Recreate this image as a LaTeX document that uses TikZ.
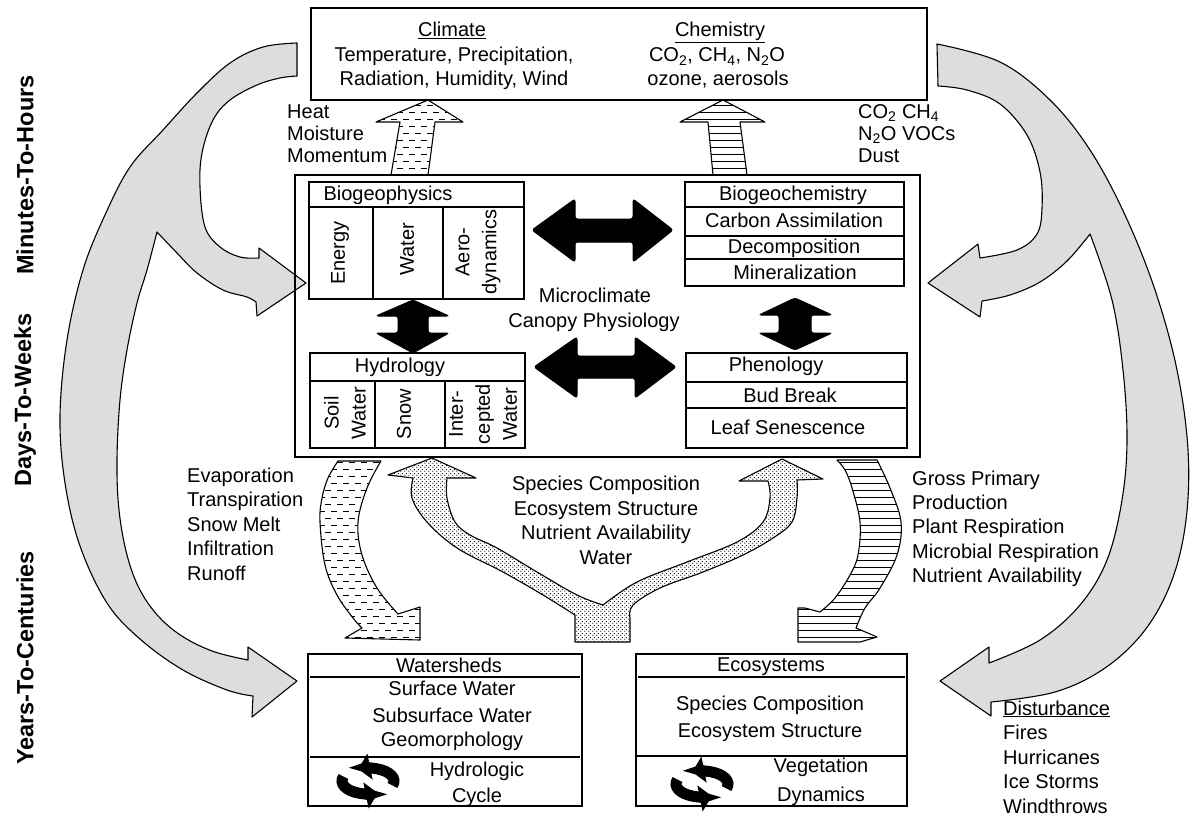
\documentclass[tikz,border=0pt]{standalone}
\usepackage{fontspec}
\setmainfont{Liberation Sans}
\usetikzlibrary{patterns,arrows.meta}
\definecolor{lgray}{RGB}{221,221,221}
\newcommand\myfs{\fontsize{20}{24}\selectfont}
\newcommand\myrfs{\fontsize{20}{27}\selectfont}
\newcommand\mybfs{\fontsize{23.5}{26}\selectfont\bfseries}
\pgfdeclarepatternformonly{mystripes}{\pgfpoint{-1pt}{-1pt}}{\pgfpoint{11pt}{8pt}}{\pgfpoint{10pt}{7pt}}{\pgfsetlinewidth{1pt}\pgfpathmoveto{\pgfpoint{-1pt}{3.5pt}}\pgfpathlineto{\pgfpoint{11pt}{3.5pt}}\pgfusepath{stroke}}
\pgfdeclarepatternformonly{mydashes}{\pgfpoint{-1pt}{-1pt}}{\pgfpoint{13pt}{15pt}}{\pgfpoint{12pt}{14pt}}{\pgfsetlinewidth{1.6pt}\pgfpathmoveto{\pgfpoint{0.5pt}{3.5pt}}\pgfpathlineto{\pgfpoint{6.5pt}{3.5pt}}\pgfpathmoveto{\pgfpoint{6.5pt}{10.5pt}}\pgfpathlineto{\pgfpoint{12.5pt}{10.5pt}}\pgfusepath{stroke}}
\pgfdeclarepatternformonly{mydots}{\pgfpointorigin}{\pgfpoint{4pt}{4pt}}{\pgfpoint{4pt}{4pt}}{\pgfpathcircle{\pgfpoint{1pt}{1pt}}{0.75pt}\pgfpathcircle{\pgfpoint{3pt}{3pt}}{0.75pt}\pgfusepath{fill}}
\begin{document}
\begin{tikzpicture}[x=1pt,y=-1pt,
  ct/.style={font=\myfs, inner sep=0pt, anchor=base},
  lt/.style={font=\myfs, inner sep=0pt, anchor=base west},
  rt/.style={font=\myrfs, inner sep=0pt, rotate=90, align=center},
  vt/.style={font=\mybfs, inner sep=0pt, rotate=90},
  bx/.style={draw, line width=1.3pt},
  ga/.style={draw, line width=1.1pt, fill=lgray, line join=round},
  blk/.style={fill=black, draw=black, line width=1pt, rounded corners=2.5pt},
  pat/.style={draw, line width=1.1pt, line join=round},
  cyc/.style={line width=11pt, -{Triangle[length=12pt,width=26pt]}}
]
\useasboundingbox (0,0) rectangle (1193,816);
\fill[white] (0,0) rectangle (1193,816);

% ---------- big gray arrows ----------
\draw[ga] plot[smooth,tension=0.6] coordinates {(297,43) (263,47) (230,63) (197,93) (163,130) (130,167) (105,215) (83,270) (67,340) (60,416) (65,483) (80,546) (107,603) (140,639) (183,670) (227,690) (253,696)}
 -- (252,717) -- (297,681) -- (248,647) -- (248,660)
 -- plot[smooth,tension=0.6] coordinates {(248,660) (215,652) (185,638) (160,618) (140,590) (127,555) (119,510) (117,460) (120,400) (127,350) (137,303) (147,270) (157,232)}
 -- plot[smooth,tension=0.6] coordinates {(157,232) (177,253) (197,273) (223,290) (247,297) (256,302)}
 -- (257,316) -- (306,283) -- (259,248) -- (259,258)
 -- plot[smooth,tension=0.6] coordinates {(259,258) (240,257) (220,247) (205,227) (200,187) (202,153) (213,120) (230,100) (257,85) (280,78) (297,76)}
 -- cycle;

\draw[ga] plot[smooth,tension=0.6] coordinates {(937,44) (1000,62) (1050,100) (1090,150) (1125,215) (1155,290) (1177,370) (1188,450) (1186,520) (1172,580) (1145,630) (1105,668) (1055,692) (991,702)}
 -- (991,716) -- (940,681) -- (989,647) -- (989,663)
 -- plot[smooth,tension=0.6] coordinates {(989,663) (1040,640) (1080,605) (1107,560) (1122,500) (1127,440) (1123,370) (1112,300) (1090,234)}
 -- plot[smooth,tension=0.6] coordinates {(1090,234) (1067,261) (1040,282) (1010,295) (982,301)}
 -- (980,317) -- (928,283) -- (978,244) -- (980,258)
 -- plot[smooth,tension=0.6] coordinates {(980,258) (1017,250) (1037,234) (1042,208) (1040,172) (1027,135) (1000,104) (967,90) (938,86)}
 -- cycle;

% ---------- top box ----------
\draw[bx] (311,8) rectangle (927,100);
\node[ct] (climate) at (452,37) {\underline{Climate}};
\node[ct] (clim1) at (454,62) {Temperature, Precipitation,};
\node[ct] (clim2) at (454,85) {Radiation, Humidity, Wind};
\node[ct] (chem) at (720,37) {\underline{Chemistry}};
\node[ct] (chem1) at (717,62) {CO\textsubscript{2}, CH\textsubscript{4}, N\textsubscript{2}O};
\node[ct] (chem2) at (718,85) {ozone, aerosols};

\node[lt] (heat) at (287,118) {Heat};
\node[lt] (moist) at (287,140) {Moisture};
\node[lt] (mom) at (287,162) {Momentum};
\node[lt] (co2) at (858,118) {CO\textsubscript{2} CH\textsubscript{4}};
\node[lt] (n2o) at (858,140) {N\textsubscript{2}O VOCs};
\node[lt] (dust) at (858,162) {Dust};

% small up arrows
\draw[pat, pattern=mydashes] (428,100) -- (463,122) -- (435,122) -- (428,175) -- (391,175) -- (400,122) -- (376,122) -- cycle;
\draw[pat, pattern=mystripes] (723,100) -- (765,122) -- (740,122) -- (747,175) -- (713,175) -- (708,122) -- (680,122) -- cycle;

% ---------- big box ----------
\draw[bx] (295,175) rectangle (920,457);

% Biogeophysics
\draw[bx] (309,182) rectangle (524,299);
\draw[bx] (309,207) -- (524,207) (373,207) -- (373,299) (443,207) -- (443,299);
\node[ct] (bgp) at (388,200) {Biogeophysics};
\node[rt] (energy) at (340,253) {Energy};
\node[rt] (water1) at (407,249) {Water};
\node[rt] (aero) at (478,252) {Aero-\\dynamics};

% Biogeochemistry
\draw[bx] (685,182) rectangle (904,286);
\draw[bx] (685,207) -- (904,207) (685,236) -- (904,236) (685,259) -- (904,259);
\node[ct] (bgc) at (793,200) {Biogeochemistry};
\node[ct] (carb) at (794,227) {Carbon Assimilation};
\node[ct] (decomp) at (794,253) {Decomposition};
\node[ct] (miner) at (795,279) {Mineralization};

% Hydrology
\draw[bx] (310,353) rectangle (525,448);
\draw[bx] (310,381) -- (525,381) (375,381) -- (375,448) (445,381) -- (445,448);
\node[ct] (hydro) at (400,372) {Hydrology};
\node[rt] (soil) at (345,413) {Soil\\Water};
\node[rt] (snow) at (404,414) {Snow};
\node[rt] (inter) at (483,414) {Inter-\\cepted\\Water};

% Phenology
\draw[bx] (686,353) rectangle (907,448);
\draw[bx] (686,382) -- (907,382) (686,408) -- (907,408);
\node[ct] (pheno) at (776,371) {Phenology};
\node[ct] (bud) at (790,402) {Bud Break};
\node[ct] (leaf) at (788,434) {Leaf Senescence};

\node[ct] (micro) at (595,302) {Microclimate};
\node[ct] (canopy) at (594,327) {Canopy Physiology};

% black double arrows
\draw[blk] (532,230) -- (575,199) -- (575,219) -- (633,219) -- (633,199) -- (673,230) -- (633,262) -- (633,242) -- (575,242) -- (575,262) -- cycle;
\draw[blk] (534,367) -- (577,337) -- (577,356) -- (635,356) -- (635,337) -- (676,367) -- (635,398) -- (635,378) -- (577,378) -- (577,398) -- cycle;
\draw[blk] (413,300) -- (449,316) -- (428,316) -- (428,333) -- (449,333) -- (413,353) -- (376,333) -- (398,333) -- (398,316) -- (376,316) -- cycle;
\draw[blk] (795,298) -- (832,315) -- (811,315) -- (811,333) -- (832,333) -- (795,350) -- (759,333) -- (779,333) -- (779,315) -- (759,315) -- cycle;

% ---------- lower curved arrows ----------
\draw[pat, pattern=mydashes] (338,461) -- (381,461)
 -- plot[smooth,tension=0.6] coordinates {(381,461) (367,488) (358,522) (362,555) (377,588) (398,614)}
 -- (420,607) -- (420,640) -- (345,638) -- (362,628)
 -- plot[smooth,tension=0.6] coordinates {(362,628) (353,618) (337,595) (325,565) (320,522) (322,498) (328,478) (338,461)}
 -- cycle;

\draw[pat, pattern=mystripes] (837,460) -- (877,460)
 -- plot[smooth,tension=0.6] coordinates {(877,460) (890,488) (901,522) (897,555) (880,588) (865,608) (856,628)}
 -- (877,637) -- (860,642) -- (798,642) -- (798,608) -- (805,608) -- (820,612)
 -- plot[smooth,tension=0.6] coordinates {(820,612) (835,598) (850,575) (858,555) (860,522) (852,488) (845,470) (837,460)}
 -- cycle;

\draw[pat, pattern=mydots] (432,458) -- (476,478) -- (447,478)
 -- plot[smooth,tension=0.6] coordinates {(447,478) (447,498) (455,522) (470,535) (497,548) (537,572) (577,595) (603,605)}
 -- plot[smooth,tension=0.6] coordinates {(603,605) (637,582) (687,562) (737,542) (763,522) (770,498) (768,481)}
 -- (739,481) -- (782,459) -- (823,479) -- (797,480)
 -- plot[smooth,tension=0.6] coordinates {(797,480) (797,498) (792,522) (773,538) (743,555) (703,572) (660,588) (633,605) (630,618)}
 -- (630,642) -- (575,642) -- (575,615)
 -- plot[smooth,tension=0.6] coordinates {(575,615) (543,595) (503,572) (457,548) (427,522) (412,498) (413,478)}
 -- (388,475) -- cycle;

\node[lt] (evap) at (187,482) {Evaporation};
\node[lt] (trans) at (187,506.5) {Transpiration};
\node[lt] (snowm) at (187,531) {Snow Melt};
\node[lt] (infil) at (187,555.5) {Infiltration};
\node[lt] (runoff) at (187,580) {Runoff};

\node[ct] (sc) at (606,490) {Species Composition};
\node[ct] (es) at (606,515) {Ecosystem Structure};
\node[ct] (na) at (606,539) {Nutrient Availability};
\node[ct] (wat) at (606,564) {Water};

\node[lt] (gpp) at (912,485) {Gross Primary};
\node[lt] (prod) at (912,509) {Production};
\node[lt] (pr) at (912,533) {Plant Respiration};
\node[lt] (mr) at (912,558) {Microbial Respiration};
\node[lt] (na2) at (912,582) {Nutrient Availability};

% ---------- bottom boxes ----------
\draw[bx] (308,654) rectangle (582,806);
\draw[bx] (310,677) -- (580,677) (310,757) -- (580,757);
\node[ct] (wsh) at (449,672) {Watersheds};
\node[ct] (sw) at (452,695) {Surface Water};
\node[ct] (ssw) at (452,722) {Subsurface Water};
\node[ct] (geo) at (452,746) {Geomorphology};
\node[ct] (hyd) at (477,776) {Hydrologic};
\node[ct] (cyc1) at (477,802) {Cycle};

\draw[bx] (636,654) rectangle (907,806);
\draw[bx] (638,677) -- (905,677) (636,756) -- (907,756);
\node[ct] (eco) at (771,671) {Ecosystems};
\node[ct] (sc2) at (770,710) {Species Composition};
\node[ct] (es2) at (770,737) {Ecosystem Structure};
\node[ct] (veg) at (821,772) {Vegetation};
\node[ct] (dyn) at (821,801) {Dynamics};

\begin{scope}[shift={(368,781)}, yscale=-1]
  \draw[cyc] (-20:26 and 13) arc[start angle=-20, end angle=112, x radius=26, y radius=13];
  \draw[cyc] (160:26 and 13) arc[start angle=160, end angle=292, x radius=26, y radius=13];
\end{scope}
\begin{scope}[shift={(702,784)}, yscale=-1]
  \draw[cyc] (-20:26 and 13) arc[start angle=-20, end angle=112, x radius=26, y radius=13];
  \draw[cyc] (160:26 and 13) arc[start angle=160, end angle=292, x radius=26, y radius=13];
\end{scope}

% ---------- disturbance ----------
\node[lt] (dist) at (1003,715) {\underline{Disturbance}};
\node[lt] (fires) at (1003,739.5) {Fires};
\node[lt] (hurr) at (1003,764) {Hurricanes};
\node[lt] (ice) at (1003,788.5) {Ice Storms};
\node[lt] (wind) at (1003,813) {Windthrows};

% ---------- time scale labels ----------
\node[vt] (mth) at (25,175) {Minutes-To-Hours};
\node[vt] (dtw) at (25,400) {Days-To-Weeks};
\node[vt] (ytc) at (25,658) {Years-To-Centuries};
\end{tikzpicture}
\end{document}
